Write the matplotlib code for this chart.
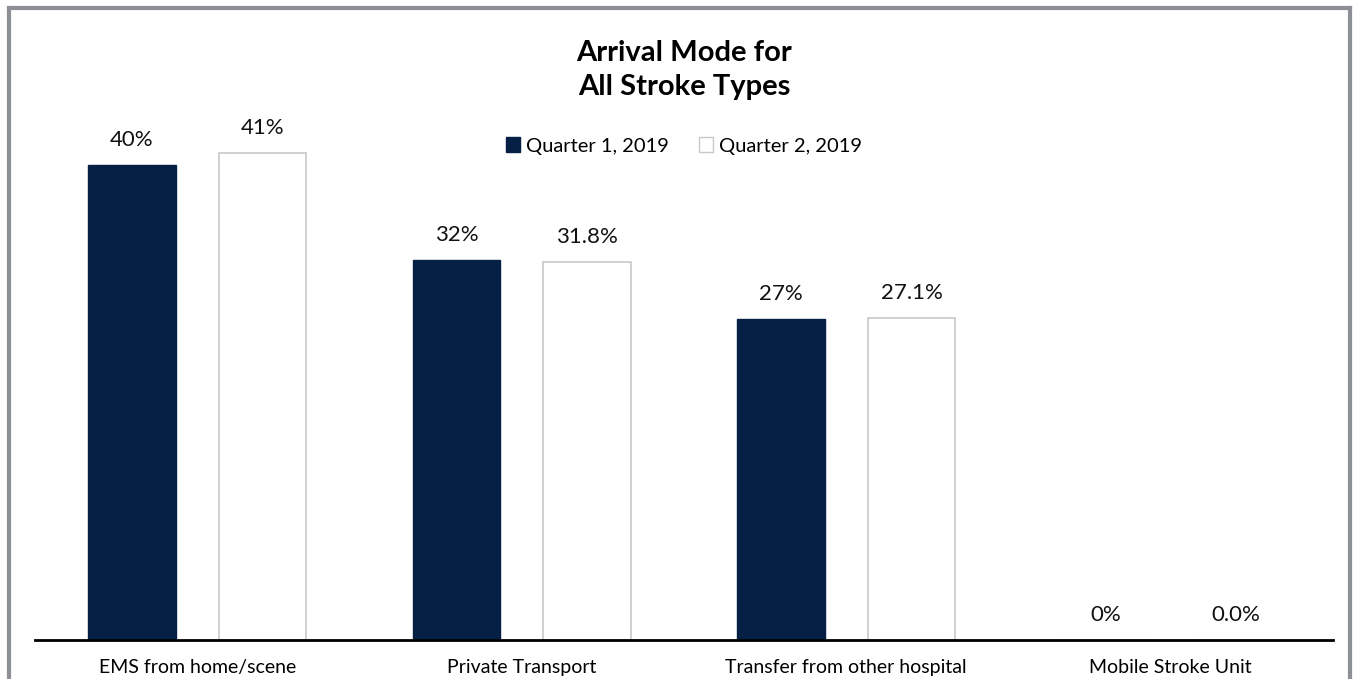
import numpy as np
import matplotlib.pyplot as plt
from matplotlib.lines import Line2D
from matplotlib.patches import Patch

plt.rcParams['font.family'] = ['Lato', 'DejaVu Sans']

# Данные
categories = ['EMS from home/scene', 'Private Transport',
              'Transfer from other hospital', 'Mobile Stroke Unit']
q1_values = [40, 32, 27, 0]
q2_values = [41, 31.8, 27.1, 0.0]
q1_labels = ['40%', '32%', '27%', '0%']
q2_labels = ['41%', '31.8%', '27.1%', '0.0%']
series_names = ['Quarter 1, 2019', 'Quarter 2, 2019']

navy = '#061f44'
edge_gray = '#c8c8c8'

fig = plt.figure(figsize=(13.57, 6.79), dpi=100)
ax = fig.add_axes([0.0258, 0.0574, 0.9565, 0.8748])

x = np.arange(len(categories))
w = 0.27
off = 0.201

b1 = ax.bar(x - off, q1_values, w, color=navy, edgecolor=navy, linewidth=1)
b2 = ax.bar(x + off, q2_values, w, color='white', edgecolor=edge_gray, linewidth=1.2)

for bars, labels in ((b1, q1_labels), (b2, q2_labels)):
    for r, t in zip(bars, labels):
        ax.annotate(t, (r.get_x() + r.get_width() / 2, r.get_height()),
                    xytext=(0, 11), textcoords='offset points',
                    ha='center', va='bottom', fontsize=16, color='#111111')

ax.set_xlim(-0.5, len(categories) - 0.5)
ax.set_ylim(0, 50)
ax.set_yticks([])
ax.set_xticks(x)
ax.set_xticklabels(categories, fontsize=14)
ax.tick_params(axis='x', length=0, pad=14)
for s in ('top', 'right', 'left'):
    ax.spines[s].set_visible(False)
ax.spines['bottom'].set_linewidth(2)
ax.spines['bottom'].set_color('black')

fig.text(0.504, 0.897, 'Arrival Mode for\nAll Stroke Types', ha='center', va='center',
         fontsize=21, fontweight='bold', linespacing=1.4)

handles = [Patch(facecolor=navy, edgecolor=navy),
           Patch(facecolor='white', edgecolor=edge_gray)]
fig.legend(handles, series_names, loc='center', bbox_to_anchor=(0.504, 0.785),
           ncol=2, frameon=False, fontsize=14.5, handlelength=0.7, handleheight=0.7,
           handletextpad=0.3, columnspacing=1.5)

# Рамка вокруг рисунка (низ обрезан)
frame_kw = dict(color='#8c8f96', linewidth=3, transform=fig.transFigure)
fig.add_artist(Line2D([0.0066, 0.0066], [-0.01, 0.988], **frame_kw))
fig.add_artist(Line2D([0.0066, 0.9952], [0.988, 0.988], **frame_kw))
fig.add_artist(Line2D([0.9952, 0.9952], [-0.01, 0.988], **frame_kw))

fig.savefig('out.png', dpi=100)
